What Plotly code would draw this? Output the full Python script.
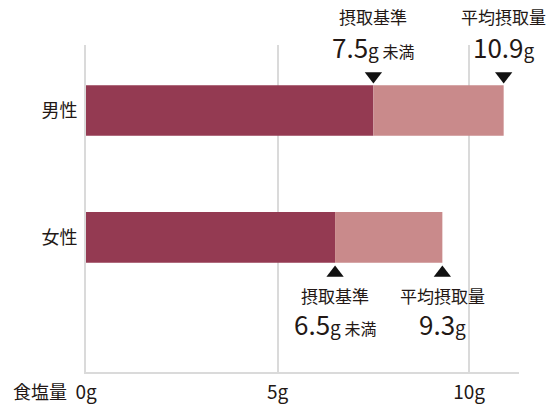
import plotly.graph_objects as go

categories = ["男性", "女性"]
standard = [7.5, 6.5]        # 摂取基準 (g 未満)
average = [10.9, 9.3]        # 平均摂取量 (g)
x_ticks = [0, 5, 10]
x_tick_labels = ["0g", "5g", "10g"]

FONT = "Noto Sans CJK JP"
TXT = "#231815"
DARK = "#943A52"
LIGHT = "#C98A8B"
GRID = "#DADADA"

ypos = [1, 0]
extra = [a - s for a, s in zip(average, standard)]

fig = go.Figure()
fig.add_trace(go.Bar(y=ypos, x=standard, orientation="h", marker=dict(color=DARK, line=dict(width=0)),
                     width=0.4, showlegend=False, hoverinfo="skip"))
fig.add_trace(go.Bar(y=ypos, x=extra, base=standard, orientation="h", marker=dict(color=LIGHT, line=dict(width=0)),
                     width=0.4, showlegend=False, hoverinfo="skip"))

W, H = 555, 405
L, R, T, B = 86, 36, 45, 33
ph = H - T - B
SP = 126.8  # px per category step
y_top = 1 + (110.5 - T) / SP
y_bot = y_top - ph / SP

def py(ypx):
    return (H - B - ypx) / ph

fig.add_trace(go.Scatter(x=[standard[0], average[0]], y=[1 + (110.5 - 76) / SP] * 2, mode="markers",
                         marker=dict(symbol="triangle-down", size=15, color="#111111"),
                         showlegend=False, hoverinfo="skip", cliponaxis=False))
fig.add_trace(go.Scatter(x=[standard[1], average[1]], y=[1 - (273 - 110.5) / SP] * 2, mode="markers",
                         marker=dict(symbol="triangle-up", size=15, color="#111111"),
                         showlegend=False, hoverinfo="skip", cliponaxis=False))

def num_text(v, suffix):
    s = f"<span style='font-size:26px'>{v}</span><span style='font-size:19px'>g</span>"
    if suffix:
        s += f"<span style='font-size:16px'> {suffix}</span>"
    return s

ann = []
def add(x, ypx, text, size):
    ann.append(dict(x=x, xref="x", y=py(ypx), yref="paper", text=text, showarrow=False,
                    font=dict(family=FONT, size=size, color=TXT), xanchor="center", yanchor="middle"))

add(standard[0], 17, "摂取基準", 17)
add(standard[0], 46, num_text(standard[0], "未満"), 16)
add(average[0], 17, "平均摂取量", 17)
add(average[0], 46, num_text(average[0], ""), 16)
add(standard[1], 295, "摂取基準", 17)
add(standard[1], 323, num_text(standard[1], "未満"), 16)
add(average[1], 295, "平均摂取量", 17)
add(average[1], 323, num_text(average[1], ""), 16)

ann.append(dict(x=(40 - L) / (W - L - R), xref="paper", y=py(391), yref="paper", text="食塩量",
                showarrow=False, font=dict(family=FONT, size=18, color=TXT), xanchor="center", yanchor="middle"))

fig.update_layout(
    width=W, height=H, margin=dict(l=L, r=R, t=T, b=B, autoexpand=False),
    paper_bgcolor="white", plot_bgcolor="white",
    barmode="overlay", annotations=ann,
    font=dict(family=FONT, color=TXT),
    xaxis=dict(range=[0, 11.3], tickvals=x_ticks, ticktext=x_tick_labels, showgrid=True,
               gridcolor=GRID, gridwidth=2, zeroline=False, showline=True, linecolor=GRID, linewidth=2,
               tickfont=dict(family=FONT, size=19, color=TXT), ticks="", ticklabelstandoff=2,
               automargin=False, fixedrange=True),
    yaxis=dict(range=[y_bot, y_top], tickvals=ypos, ticktext=categories, showgrid=False, zeroline=False,
               showline=True, linecolor=GRID, linewidth=2, tickfont=dict(family=FONT, size=18, color=TXT),
               ticks="", ticklabelstandoff=3, automargin=False, fixedrange=True),
)

fig.write_html("out.html", config={"displayModeBar": False},
               post_script="document.body.style.margin='0';document.body.style.overflow='hidden';")
